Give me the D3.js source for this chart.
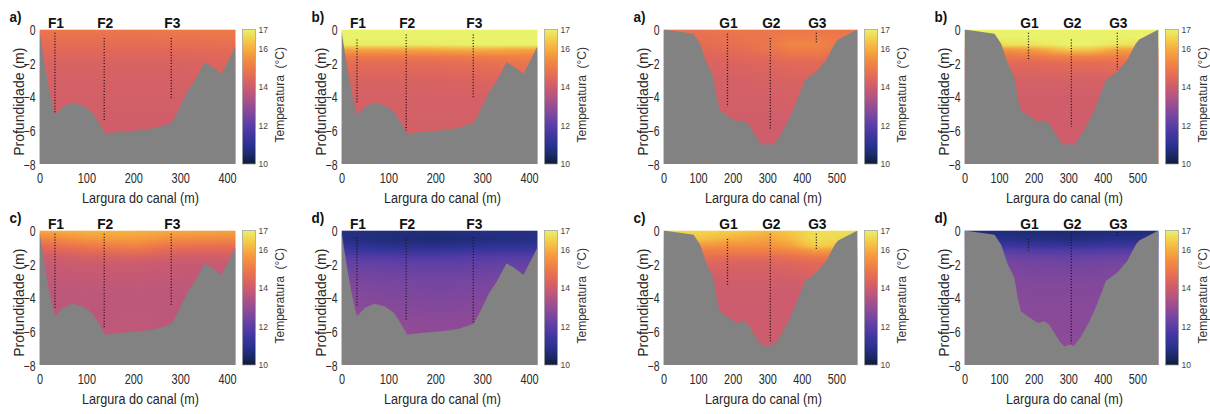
<!DOCTYPE html>
<html><head><meta charset="utf-8">
<script src="https://cdn.jsdelivr.net/npm/d3@7"></script>
<style>body{margin:0;background:#fff} svg{display:block}</style>
</head><body><svg id="chart" width="1210" height="414"></svg>
<script>
// ---------------- data ----------------
const depthRows = [0, -0.5, -0.9, -1.2, -1.6, -2, -3, -4, -5.5, -7];
const fColumnsX = [0, 100, 200, 300, 420];
const gColumnsX = [100, 200, 300, 370, 440, 520];
const fStations = ["F1", "F2", "F3"];
const fStationX = [33, 138, 281];
const gStations = ["G1", "G2", "G3"];
const gStationX = [185, 309, 442];
const fBottom = [[0,0],[5,-1],[12,-2.2],[18,-3.2],[25,-4.2],[33,-5.1],[50,-4.6],[70,-4.35],[92,-4.5],[112,-4.9],[128,-5.6],[140,-6.2],[170,-6.1],[220,-5.98],[250,-5.85],[282,-5.55],[300,-4.6],[315,-3.7],[330,-3.1],[352,-1.95],[370,-2.25],[388,-2.65],[418,-1.0]];
const gBottom = [[0,0],[87,-0.25],[106,-0.85],[125,-2.0],[144,-2.8],[154,-4.0],[163,-4.8],[183,-5.1],[212,-5.5],[231,-5.4],[245,-5.6],[260,-6.1],[279,-6.7],[290,-6.9],[300,-6.8],[317,-6.85],[337,-6.3],[356,-5.6],[375,-4.8],[394,-3.8],[409,-3.0],[442,-2.5],[471,-1.8],[495,-0.85],[505,-0.6],[529,-0.34],[561,0]];
const xTicksF = [0, 100, 200, 300, 400];
const xTicksG = [0, 100, 200, 300, 400, 500];
const yTicks = [0, -2, -4, -6, -8];
const cbarTicks = [10, 12, 14, 16, 17];
const tempDomain = [10, 17];
const thermalValues = [10, 10.5, 11, 11.5, 12, 12.5, 13, 13.5, 14, 14.5, 15, 15.5, 16, 16.5, 17];
const thermalColors = ["#0e1c36","#1c2a6e","#2c3292","#4036a0","#5a3ea6","#7746a0","#964c93","#b35483","#cc5c6e","#e26858","#ee7a48","#f49040","#f6ae3e","#f3d04a","#e9f26a"];

// temperature (°C) per column (rows = depthRows)
const tempFa = [
  [14.9,14.75,14.6,14.5,14.4,14.3,14.2,14.15,14.1,14.1],
  [14.9,14.75,14.6,14.5,14.4,14.3,14.2,14.15,14.1,14.1],
  [14.9,14.75,14.6,14.5,14.4,14.3,14.2,14.15,14.1,14.1],
  [15.0,14.8,14.65,14.5,14.4,14.3,14.2,14.15,14.1,14.1],
  [15.0,14.85,14.7,14.6,14.5,14.4,14.3,14.2,14.2,14.2]];
const tempFb = [
  [17,17,16.9,15.8,15.0,14.6,14.3,14.2,14.15,14.15],
  [17,17,16.9,15.8,15.0,14.6,14.3,14.2,14.15,14.15],
  [17,17,16.9,15.9,15.0,14.6,14.3,14.2,14.15,14.15],
  [17,17,17,16.0,15.1,14.7,14.35,14.2,14.15,14.15],
  [17,17,17,15.8,15.2,14.9,14.5,14.3,14.2,14.2]];
const tempFc = [
  [15.9,15.2,14.6,14.3,14.0,13.9,13.75,13.7,13.7,13.7],
  [16.1,15.6,15.0,14.6,14.2,14.0,13.8,13.7,13.7,13.7],
  [16.1,15.7,15.2,14.8,14.3,14.0,13.8,13.7,13.75,13.8],
  [15.9,15.4,14.8,14.4,14.1,13.9,13.75,13.7,13.7,13.7],
  [15.8,15.3,14.7,14.4,14.1,13.9,13.8,13.8,13.8,13.8]];
const tempFd = [
  [10.8,10.8,11.1,11.5,11.95,12.2,12.6,12.8,12.95,13.0],
  [10.7,10.65,10.9,11.3,11.85,12.15,12.5,12.65,12.9,13.0],
  [10.7,10.55,10.85,11.3,11.8,12.1,12.45,12.6,12.85,12.95],
  [10.8,10.7,11.0,11.4,11.9,12.15,12.5,12.65,12.85,12.9],
  [10.8,10.8,11.1,11.5,11.95,12.2,12.55,12.7,12.8,12.8]];
const tempGa = [
  [14.8,14.7,14.6,14.5,14.4,14.3,14.2,14.15,14.1,14.1],
  [14.9,14.8,14.7,14.6,14.45,14.35,14.2,14.15,14.1,14.1],
  [14.9,14.9,14.9,14.8,14.6,14.4,14.25,14.15,14.1,14.1],
  [14.9,15.1,15.25,15.05,14.8,14.5,14.3,14.2,14.1,14.1],
  [14.9,15.1,15.25,15.1,14.8,14.5,14.3,14.2,14.1,14.1],
  [14.9,14.9,14.9,14.8,14.6,14.4,14.3,14.2,14.1,14.1]];
const tempGb = [
  [17,17,16.7,15.5,14.9,14.5,14.2,14.1,14.1,14.1],
  [17,17,16.8,15.7,15.0,14.5,14.2,14.1,14.1,14.1],
  [17,17,17,16.4,15.2,14.6,14.2,14.1,14.1,14.1],
  [17,17,17,16.3,15.2,14.6,14.2,14.1,14.1,14.1],
  [17,17,16.8,15.8,15.1,14.7,14.3,14.1,14.1,14.1],
  [17,17,16.7,15.7,15.1,14.7,14.3,14.2,14.1,14.1]];
const tempGc = [
  [16.6,16.3,15.6,15.1,14.7,14.4,14.1,14.0,14.0,14.0],
  [16.5,16.0,15.5,15.1,14.6,14.3,14.1,14.0,14.0,14.0],
  [16.2,15.8,15.5,15.1,14.6,14.3,14.1,14.0,14.0,14.0],
  [16.4,16.2,15.8,15.3,14.7,14.4,14.1,14.0,14.0,14.0],
  [16.7,16.7,16.5,15.7,14.9,14.5,14.2,14.0,14.0,14.0],
  [16.7,16.6,16.3,15.5,14.9,14.5,14.2,14.1,14.0,14.0]];
const tempGd = [
  [10.6,10.9,11.4,11.95,12.3,12.5,12.7,12.75,12.8,12.8],
  [10.55,10.8,11.3,11.85,12.25,12.45,12.65,12.75,12.8,12.85],
  [10.5,10.7,11.2,11.8,12.2,12.4,12.65,12.75,12.8,12.85],
  [10.55,10.8,11.3,11.85,12.25,12.45,12.65,12.75,12.8,12.85],
  [10.6,10.9,11.4,11.9,12.3,12.5,12.7,12.75,12.8,12.8],
  [10.6,10.9,11.4,11.95,12.3,12.5,12.7,12.75,12.8,12.8]];

// cast extents [top, bottom] for each station
const castFa = [[-0.2,-5.0],[-0.5,-5.5],[-0.5,-4.1]];
const castFb = [[-0.6,-4.4],[-0.3,-6.0],[-0.3,-4.1]];
const castFc = [[-0.2,-4.7],[-0.2,-5.8],[-0.2,-4.5]];
const castFd = [[-0.4,-4.5],[-0.4,-5.3],[-0.4,-5.5]];
const castGa = [[-0.25,-4.6],[-0.5,-5.9],[-0.2,-0.8]];
const castGb = [[-0.2,-1.8],[-0.6,-5.8],[-0.2,-2.4]];
const castGc = [[-0.5,-3.3],[-0.2,-6.6],[-0.2,-1.2]];
const castGd = [[-0.5,-1.2],[-0.2,-6.7],[-0.1,-0.4]];

// ---------------- layout ----------------
const colLeft = [39.5, 341.5, 663.5, 964.5];
const rowTop = [29.5, 230.5];
const plotH = 134.5;
const F = {stations: fStations, sx: fStationX, cols: fColumnsX, bottom: fBottom, xMax: 418, ticks: xTicksF, w: 196};
const G = {stations: gStations, sx: gStationX, cols: gColumnsX, bottom: gBottom, xMax: 561, ticks: xTicksG, w: 194};
const panels = [
  {set: F, label: "a)", temps: tempFa, casts: castFa, c: 0, r: 0},
  {set: F, label: "b)", temps: tempFb, casts: castFb, c: 1, r: 0},
  {set: G, label: "a)", temps: tempGa, casts: castGa, c: 2, r: 0},
  {set: G, label: "b)", temps: tempGb, casts: castGb, c: 3, r: 0},
  {set: F, label: "c)", temps: tempFc, casts: castFc, c: 0, r: 1},
  {set: F, label: "d)", temps: tempFd, casts: castFd, c: 1, r: 1},
  {set: G, label: "c)", temps: tempGc, casts: castGc, c: 2, r: 1},
  {set: G, label: "d)", temps: tempGd, casts: castGd, c: 3, r: 1}];

const FONT = "'Liberation Sans', Arial, Helvetica, sans-serif";
const color = d3.scaleLinear().domain(thermalValues).range(thermalColors).interpolate(d3.interpolateRgb).clamp(true);
const svg = d3.select("#chart");
const defs = svg.append("defs");

function squeeze(sel, f) {
  sel.each(function () {
    const l = this.getComputedTextLength();
    this.setAttribute("textLength", (l * f).toFixed(2));
    this.setAttribute("lengthAdjust", "spacingAndGlyphs");
  });
}

panels.forEach((p, pi) => {
  const S = p.set;
  const left = colLeft[p.c], top = rowTop[p.r];
  const x = d3.scaleLinear().domain([0, S.xMax]).range([left, left + S.w]);
  const y = d3.scaleLinear().domain([0, -8]).range([top, top + plotH]);
  const g = svg.append("g");

  const clipId = "clip" + pi;
  defs.append("clipPath").attr("id", clipId).append("rect")
    .attr("x", left).attr("y", top).attr("width", S.w).attr("height", plotH);
  const plot = g.append("g").attr("clip-path", `url(#${clipId})`);

  // temperature field: vertical-gradient strips
  const step = 2;
  for (let px = left; px < left + S.w; px += step) {
    const xv = x.invert(px + step / 2);
    const rowTemps = depthRows.map((d, ri) => {
      const colScale = d3.scaleLinear().domain(S.cols).range(p.temps.map(c => c[ri])).clamp(true);
      return colScale(xv);
    });
    const gid = `gr${pi}_${Math.round(px * 10)}`;
    const lg = defs.append("linearGradient").attr("id", gid)
      .attr("x1", 0).attr("x2", 0).attr("y1", 0).attr("y2", 1);
    depthRows.forEach((d, ri) => {
      lg.append("stop").attr("offset", ((y(d) - top) / plotH).toFixed(4))
        .attr("stop-color", color(rowTemps[ri]));
    });
    plot.append("rect").attr("x", px).attr("y", top).attr("width", step + 0.6).attr("height", plotH)
      .attr("fill", `url(#${gid})`);
  }

  // bathymetry
  const area = d3.area().x(d => x(d[0])).y0(y(-8)).y1(d => y(d[1]));
  plot.append("path").datum(S.bottom).attr("d", area).attr("fill", "#828282");

  // casts
  p.casts.forEach((c, i) => {
    plot.append("line").attr("x1", x(S.sx[i])).attr("x2", x(S.sx[i]))
      .attr("y1", y(c[0])).attr("y2", y(c[1]))
      .attr("stroke", "#1e1418").attr("stroke-width", 1.3).attr("stroke-dasharray", "1,1.8");
  });

  // axes
  const yAxis = g.append("g").attr("transform", `translate(${left},0)`)
    .call(d3.axisLeft(y).tickValues(yTicks).tickSize(0).tickPadding(4).tickFormat(d3.format("d")));
  yAxis.select(".domain").remove();
  yAxis.selectAll("text").attr("font-family", FONT).attr("font-size", 14).attr("fill", "#2a2a2a").attr("dy", "0.36em");
  squeeze(yAxis.selectAll("text"), 0.75);

  const xAxis = g.append("g").attr("transform", `translate(0,${top + plotH})`)
    .call(d3.axisBottom(x).tickValues(S.ticks).tickSize(0).tickPadding(9).tickFormat(d3.format("d")));
  xAxis.select(".domain").remove();
  xAxis.selectAll("text").attr("font-family", FONT).attr("font-size", 14).attr("fill", "#2a2a2a");
  squeeze(xAxis.selectAll("text"), 0.78);

  // titles
  const xt = g.append("text").attr("x", left + S.w / 2 + 3).attr("y", top + plotH + 39)
    .attr("text-anchor", "middle").attr("font-family", FONT).attr("font-size", 14).attr("fill", "#262626")
    .text("Largura do canal (m)");
  squeeze(xt, 0.9);
  g.append("text").attr("transform", `translate(${left - 16},${top + plotH / 2 + 5}) rotate(-90)`)
    .attr("text-anchor", "middle").attr("font-family", FONT).attr("font-size", 14).attr("fill", "#262626")
    .text("Profundidade (m)");

  // panel label and station labels
  const pl = g.append("text").attr("x", left - 30).attr("y", top - 8)
    .attr("font-family", FONT).attr("font-size", 15).attr("font-weight", "bold").attr("fill", "#111")
    .text(p.label);
  squeeze(pl, 0.9);
  S.stations.forEach((s, i) => {
    const t = g.append("text").attr("x", x(S.sx[i]) + 1).attr("y", top - 1.5).attr("text-anchor", "middle")
      .attr("font-family", FONT).attr("font-size", 15).attr("font-weight", "bold").attr("fill", "#111")
      .text(s);
    squeeze(t, 0.92);
  });

  // colorbar
  const cbL = left + S.w + 7, cbW = 13;
  const cy = d3.scaleLinear().domain(tempDomain).range([top + plotH, top]);
  const cgid = "cb" + pi;
  const cg = defs.append("linearGradient").attr("id", cgid).attr("x1", 0).attr("x2", 0).attr("y1", 1).attr("y2", 0);
  thermalValues.forEach((v, i) => {
    cg.append("stop").attr("offset", (v - tempDomain[0]) / (tempDomain[1] - tempDomain[0])).attr("stop-color", thermalColors[i]);
  });
  g.append("rect").attr("x", cbL).attr("y", top).attr("width", cbW).attr("height", plotH)
    .attr("fill", `url(#${cgid})`).attr("stroke", "#9a9a9a").attr("stroke-width", 0.7);
  const cAxis = g.append("g").attr("transform", `translate(${cbL + cbW},0)`)
    .call(d3.axisRight(cy).tickValues(cbarTicks).tickSize(0).tickPadding(3).tickFormat(d3.format("d")));
  cAxis.select(".domain").remove();
  cAxis.selectAll("text").attr("font-family", FONT).attr("font-size", 8.5).attr("fill", "#444");
  g.append("text").attr("transform", `translate(${cbL + 41},${top + plotH / 2 - 2}) rotate(-90)`)
    .attr("text-anchor", "middle").attr("font-family", FONT).attr("font-size", 12).attr("fill", "#333")
    .text("Temperatura\u00a0\u00a0(°C)");
});
</script></body></html>
